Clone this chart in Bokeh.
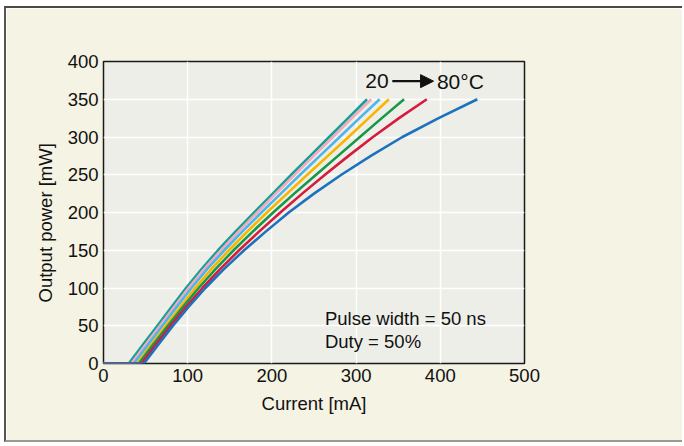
from bokeh.plotting import figure
from bokeh.models import Range1d, FixedTicker, Arrow, NormalHead, Label, Title
from bokeh.embed import file_html
from bokeh.resources import INLINE

# Output power levels (mW) at which each curve's current was read
power_levels = [0, 0, 25, 50, 75, 100, 125, 150, 175, 200, 225, 250, 275, 300, 325, 350]

# Current (mA) read for each temperature curve, 20 C -> 80 C
current_teal = [0, 30, 47, 64, 81, 98, 116.5, 136, 157, 179, 201, 223, 245.5, 268, 290.5, 313]
current_pink = [0, 33, 50, 67, 84, 101, 119.5, 139.5, 160.5, 182.5, 204.5, 227, 249.5, 272.5, 295, 318]
current_lightblue = [0, 36, 53, 70, 87, 104.5, 123, 143.5, 165, 187.5, 210.5, 233.5, 257, 280.5, 304, 328]
current_orange = [0, 40, 57, 74, 91.5, 109, 128, 149, 171, 194, 218, 242, 266.5, 291, 315, 339]
current_green = [0, 42, 59, 76.5, 94.5, 113, 133, 154.5, 177.5, 201.5, 226.5, 252.5, 278.5, 304.5, 330.5, 357]
current_red = [0, 45, 62, 79.5, 98, 117.5, 138.5, 161, 185, 210, 236, 263, 291, 320, 351, 384]
current_blue = [0, 48, 65, 82.5, 101, 121, 143, 167, 193, 220, 250, 282.5, 317.5, 355, 398, 444]

series = [
    (current_teal, "#15a092"),
    (current_pink, "#f4a8c2"),
    (current_lightblue, "#4cb6e6"),
    (current_orange, "#f7b500"),
    (current_green, "#16984a"),
    (current_red, "#d61c3e"),
    (current_blue, "#1c72bd"),
]

x_ticks = [0, 100, 200, 300, 400, 500]
y_ticks = [0, 50, 100, 150, 200, 250, 300, 350, 400]

FONT = "Liberation Sans"

p = figure(width=678, height=436, output_backend="svg", toolbar_location=None,
           x_range=Range1d(0, 500), y_range=Range1d(0, 400),
           min_border_left=97, min_border_right=160, min_border_top=53, min_border_bottom=81)
p.styles = {"margin-left": "4px", "margin-top": "6px",
            "border-left": "2px solid #555555", "border-top": "2px solid #4a4a4a",
            "border-bottom": "2px solid #9a9a92"}

p.background_fill_color = "#eeeee8"
p.border_fill_color = "#f5f3e3"
p.outline_line_color = "#1a1a1a"
p.outline_line_width = 1.5

for ax in (p.xaxis[0], p.yaxis[0]):
    ax.axis_line_color = None
    ax.major_tick_line_color = None
    ax.minor_tick_line_color = None
    ax.major_tick_out = 0
    ax.major_tick_in = 0
    ax.major_label_text_font = FONT
    ax.major_label_text_font_size = "18.5px"
    ax.major_label_text_color = "#111111"
    ax.axis_label_text_font = FONT
    ax.axis_label_text_font_size = "18.5px"
    ax.axis_label_text_font_style = "normal"
    ax.axis_label_text_color = "#111111"
    ax.major_label_standoff = 5

p.xaxis.ticker = FixedTicker(ticks=x_ticks)
p.yaxis.ticker = FixedTicker(ticks=y_ticks)
p.xaxis.axis_label = "Current [mA]"
p.xaxis.axis_label_standoff = 8

p.grid.grid_line_color = "white"
p.grid.grid_line_width = 1.5

for cur, col in series:
    p.line(cur, power_levels, line_color=col, line_width=2.6, line_join="round")

# y-axis title, sitting a little below the frame centre as in the original
p.add_layout(Title(text="Output power [mW]", align="left", offset=61, standoff=18,
                   text_font=FONT, text_font_size="18.5px", text_font_style="normal",
                   text_color="#111111"), "left")

p.add_layout(Label(x=311, y=374, text="20", text_font=FONT, text_font_size="21px",
                   text_baseline="middle", text_align="left", text_color="#111111"))
p.add_layout(Arrow(x_start=343, y_start=374, x_end=392, y_end=374, line_width=2.2,
                   line_color="#111111",
                   end=NormalHead(size=13, fill_color="#111111", line_color="#111111")))
p.add_layout(Label(x=396, y=374, text="80°C", text_font=FONT, text_font_size="21px",
                   text_baseline="middle", text_align="left", text_color="#111111"))

p.add_layout(Label(x=263, y=60, text="Pulse width = 50 ns", text_font=FONT,
                   text_font_size="18.5px", text_baseline="middle", text_color="#111111"))
p.add_layout(Label(x=263, y=29, text="Duty = 50%", text_font=FONT,
                   text_font_size="18.5px", text_baseline="middle", text_color="#111111"))

open("out.html", "w").write(file_html(p, INLINE))
